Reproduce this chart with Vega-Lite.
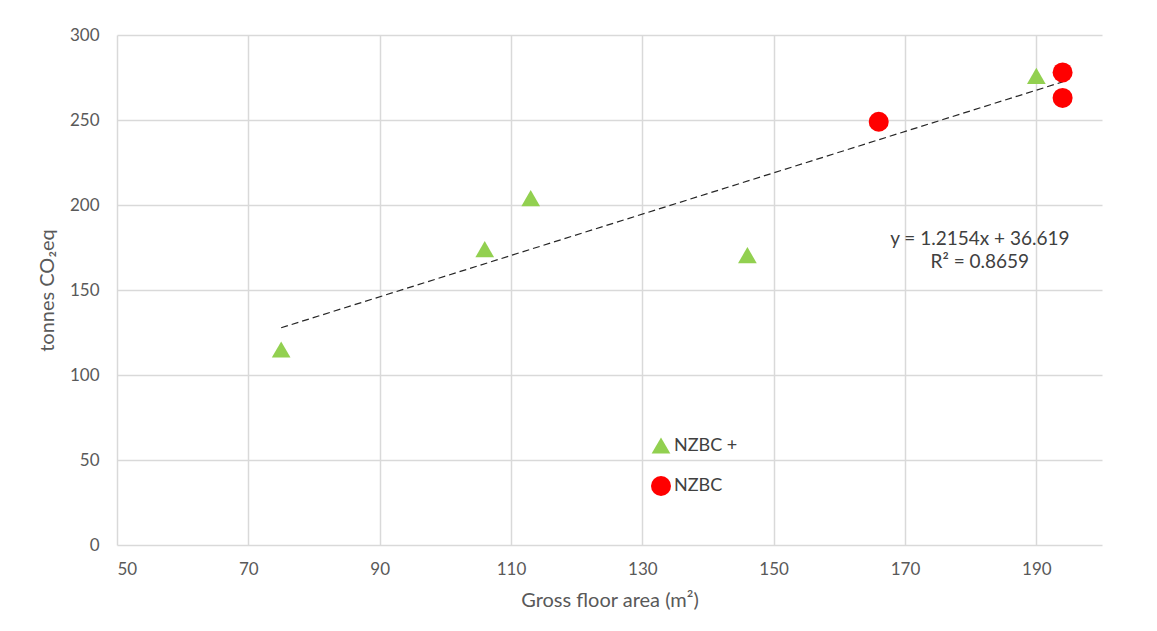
{
  "$schema": "https://vega.github.io/schema/vega-lite/v6.json",
  "width": 985,
  "height": 510,
  "autosize": {"type": "none"},
  "padding": {"left": 117, "top": 35, "right": 55, "bottom": 86},
  "background": "white",
  "config": {
    "font": "Lato",
    "view": {"stroke": null},
    "axis": {
      "domain": false,
      "ticks": false,
      "tickSize": 0,
      "grid": true,
      "gridColor": "#d9d9d9",
      "gridWidth": 1.5,
      "labelColor": "#595959",
      "labelFontSize": 17,
      "titleColor": "#595959",
      "titleFontSize": 20,
      "titleFontWeight": "normal"
    }
  },
  "datasets": {
    "points": [
      {"x": 75, "y": 115, "series": "NZBC +"},
      {"x": 106, "y": 174, "series": "NZBC +"},
      {"x": 113, "y": 204, "series": "NZBC +"},
      {"x": 146, "y": 170.5, "series": "NZBC +"},
      {"x": 190, "y": 276, "series": "NZBC +"},
      {"x": 166, "y": 249, "series": "NZBC"},
      {"x": 194, "y": 278, "series": "NZBC"},
      {"x": 194, "y": 263, "series": "NZBC"}
    ],
    "trend": [
      {"x": 75, "y": 127.77},
      {"x": 194, "y": 272.41}
    ],
    "labels": [
      {"x": 181.4, "y": 180, "label": "y = 1.2154x + 36.619"},
      {"x": 181.4, "y": 166.5, "label": "R² = 0.8659"}
    ]
  },
  "encoding": {
    "x": {
      "field": "x",
      "type": "quantitative",
      "scale": {"domain": [50, 200], "nice": false, "zero": false},
      "axis": {
        "values": [50, 70, 90, 110, 130, 150, 170, 190],
        "title": "Gross floor area (m²)",
        "labelPadding": 16,
        "titlePadding": 13
      }
    },
    "y": {
      "field": "y",
      "type": "quantitative",
      "scale": {"domain": [0, 300], "nice": false},
      "axis": {
        "values": [0, 50, 100, 150, 200, 250, 300],
        "title": "tonnes CO₂eq",
        "labelPadding": 18,
        "titlePadding": 12
      }
    }
  },
  "layer": [
    {
      "data": {"name": "trend"},
      "mark": {"type": "line", "color": "#262626", "strokeWidth": 1.2, "strokeDash": [7, 4]}
    },
    {
      "data": {"name": "points"},
      "mark": {"type": "point", "filled": true, "opacity": 1},
      "encoding": {
        "color": {
          "field": "series",
          "type": "nominal",
          "scale": {"domain": ["NZBC +", "NZBC"], "range": ["#92d050", "#ff0000"]},
          "legend": {"orient": "none", "legendX": 533, "legendY": 400, "title": null, "labelFontSize": 18, "labelColor": "#404040", "symbolSize": 180, "rowPadding": 20, "padding": 0, "labelOffset": 2}
        },
        "shape": {
          "field": "series",
          "type": "nominal",
          "scale": {"domain": ["NZBC +", "NZBC"], "range": ["triangle-up", "circle"]},
          "legend": {"orient": "none", "legendX": 533, "legendY": 400, "title": null, "labelFontSize": 18, "labelColor": "#404040", "symbolSize": 180, "rowPadding": 20, "padding": 0, "labelOffset": 2}
        },
        "size": {
          "field": "series",
          "type": "nominal",
          "scale": {"domain": ["NZBC +", "NZBC"], "range": [350, 400]},
          "legend": null
        }
      }
    },
    {
      "data": {"name": "labels"},
      "mark": {"type": "text", "fontSize": 19, "color": "#404040", "align": "center", "baseline": "middle"},
      "encoding": {"text": {"field": "label"}}
    }
  ]
}
